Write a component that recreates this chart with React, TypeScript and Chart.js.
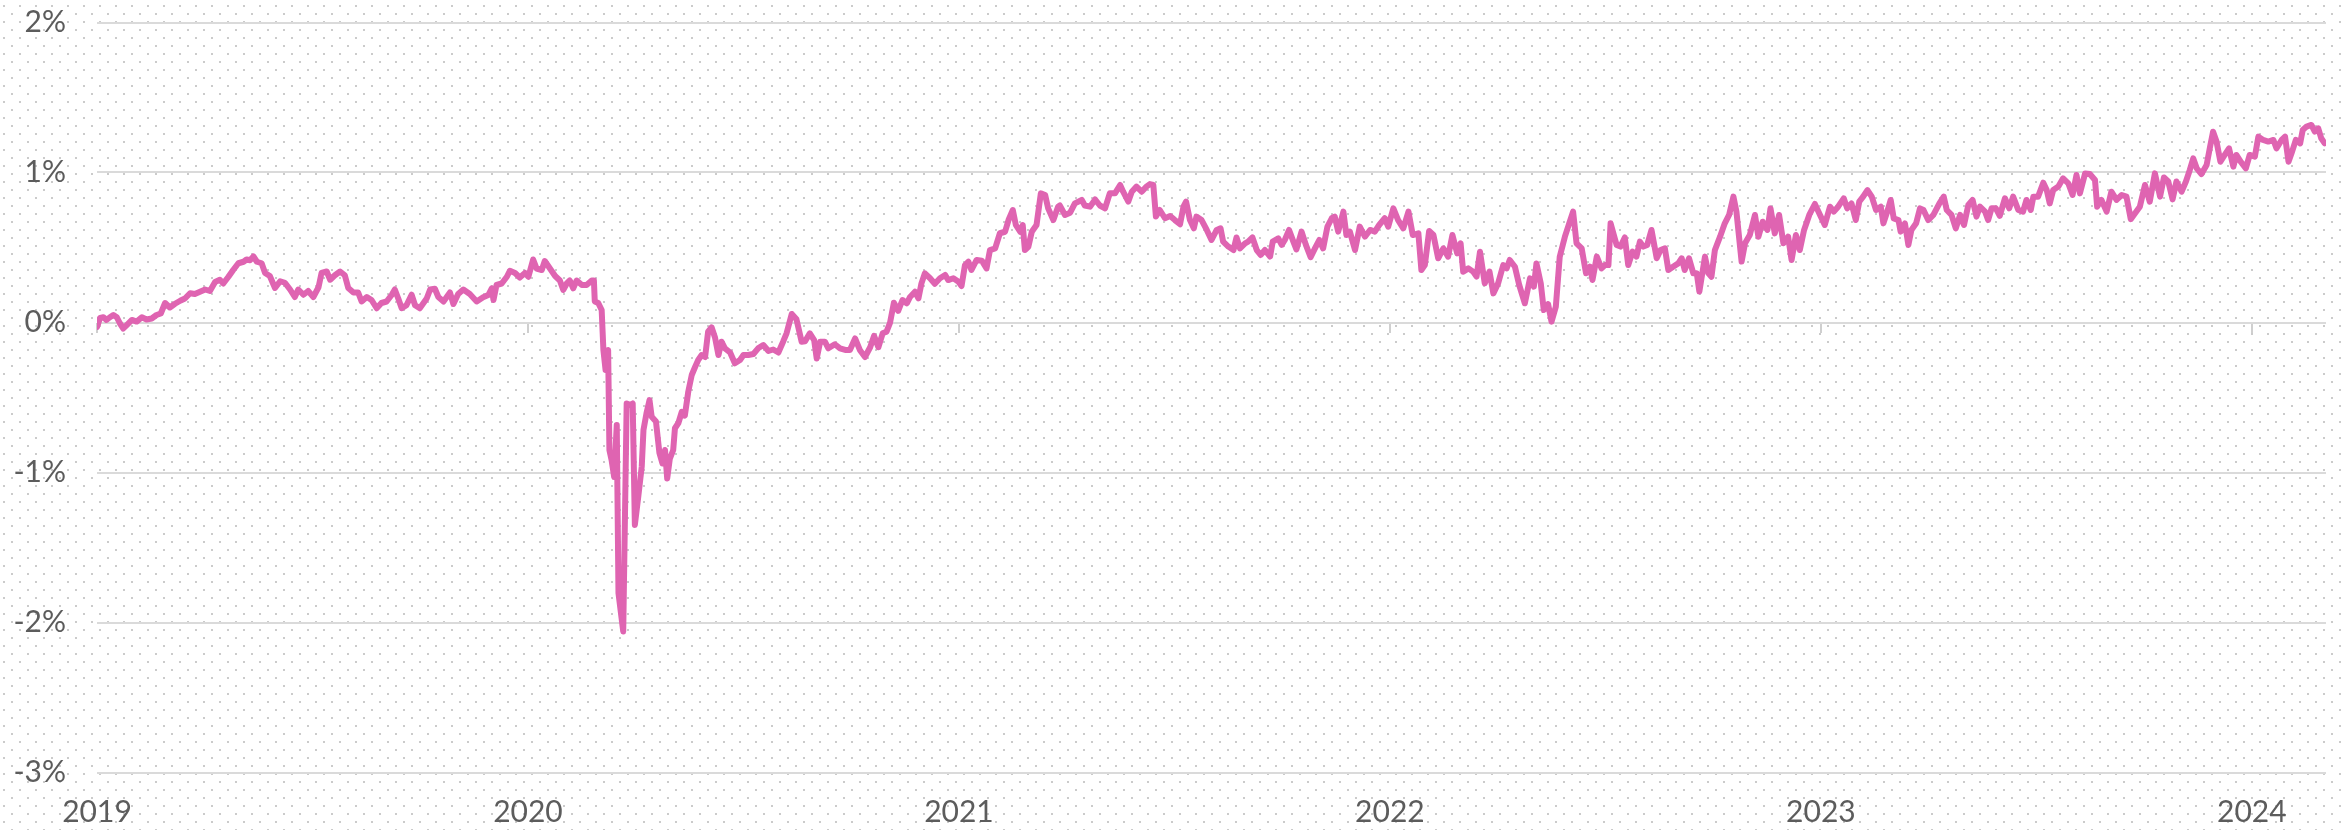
import React, { useEffect, useRef } from "react";
import { Chart, registerables } from "chart.js";

Chart.register(...registerables);

// x-axis labels (years) and y-axis ticks (%)
const yearTicks = [2019, 2020, 2021, 2022, 2023, 2024];
const percentTicks = [-3, -2, -1, 0, 1, 2];

// Each year: fraction of the year at which the reading is taken, and the value in %
const frac2019 = [0.000, 0.007, 0.015, 0.022, 0.030, 0.038, 0.046, 0.053, 0.061, 0.069, 0.081, 0.092, 0.104, 0.115, 0.127, 0.138, 0.148, 0.158, 0.169, 0.181, 0.193, 0.204, 0.216, 0.227, 0.239, 0.251, 0.262, 0.274, 0.285, 0.293, 0.305, 0.316, 0.328, 0.340, 0.347, 0.355, 0.363, 0.371, 0.382, 0.390, 0.401, 0.413, 0.425, 0.436, 0.448, 0.459, 0.467, 0.479, 0.490, 0.502, 0.514, 0.521, 0.533, 0.541, 0.552, 0.564, 0.575, 0.583, 0.595, 0.606, 0.614, 0.626, 0.637, 0.649, 0.660, 0.672, 0.684, 0.691, 0.699, 0.707, 0.718, 0.730, 0.738, 0.749, 0.765, 0.773, 0.784, 0.792, 0.804, 0.819, 0.827, 0.838, 0.850, 0.865, 0.881, 0.896, 0.908, 0.916, 0.920, 0.927, 0.939, 0.951, 0.958, 0.970, 0.981, 0.993];
const val2019 = [-0.03, 0.03, 0.035, 0.017, 0.035, 0.05, 0.035, -0.005, -0.04, -0.017, 0.017, 0.006, 0.035, 0.02, 0.027, 0.05, 0.06, 0.13, 0.10, 0.125, 0.145, 0.16, 0.195, 0.19, 0.205, 0.22, 0.21, 0.27, 0.285, 0.26, 0.305, 0.35, 0.395, 0.405, 0.42, 0.415, 0.44, 0.405, 0.395, 0.33, 0.31, 0.23, 0.275, 0.265, 0.22, 0.17, 0.22, 0.185, 0.21, 0.17, 0.235, 0.33, 0.34, 0.285, 0.315, 0.34, 0.315, 0.23, 0.2, 0.2, 0.14, 0.17, 0.15, 0.095, 0.13, 0.14, 0.185, 0.22, 0.16, 0.095, 0.115, 0.185, 0.115, 0.095, 0.16, 0.22, 0.225, 0.17, 0.14, 0.2, 0.123, 0.19, 0.22, 0.19, 0.14, 0.168, 0.183, 0.228, 0.15, 0.25, 0.26, 0.305, 0.345, 0.33, 0.3, 0.33];

const frac2020 = [0.001, 0.012, 0.020, 0.032, 0.039, 0.051, 0.063, 0.074, 0.082, 0.090, 0.097, 0.105, 0.113, 0.125, 0.136, 0.148, 0.153, 0.155, 0.163, 0.171, 0.175, 0.180, 0.186, 0.189, 0.194, 0.200, 0.206, 0.210, 0.221, 0.229, 0.237, 0.243, 0.248, 0.256, 0.264, 0.268, 0.275, 0.282, 0.287, 0.297, 0.305, 0.312, 0.318, 0.323, 0.329, 0.337, 0.341, 0.349, 0.357, 0.364, 0.372, 0.380, 0.388, 0.395, 0.403, 0.411, 0.418, 0.426, 0.434, 0.442, 0.449, 0.457, 0.469, 0.480, 0.492, 0.500, 0.511, 0.523, 0.534, 0.546, 0.558, 0.569, 0.581, 0.592, 0.600, 0.612, 0.623, 0.635, 0.643, 0.654, 0.664, 0.670, 0.678, 0.689, 0.697, 0.712, 0.724, 0.736, 0.747, 0.759, 0.770, 0.782, 0.794, 0.803, 0.813, 0.823, 0.832, 0.840, 0.849, 0.859, 0.869, 0.879, 0.886, 0.898, 0.906, 0.913, 0.921, 0.933, 0.944, 0.956, 0.968, 0.975, 0.987, 0.999];
const val2020 = [0.305, 0.42, 0.36, 0.35, 0.41, 0.36, 0.31, 0.28, 0.217, 0.26, 0.28, 0.228, 0.28, 0.25, 0.25, 0.28, 0.28, 0.14, 0.13, 0.083, -0.183, -0.317, -0.183, -0.85, -0.917, -1.03, -0.683, -1.805, -2.06, -0.54, -0.55, -0.54, -1.35, -1.16, -0.96, -0.717, -0.605, -0.517, -0.628, -0.66, -0.87, -0.94, -0.85, -1.04, -0.91, -0.85, -0.705, -0.67, -0.595, -0.62, -0.46, -0.35, -0.295, -0.25, -0.217, -0.23, -0.061, -0.032, -0.1, -0.217, -0.128, -0.173, -0.2, -0.272, -0.25, -0.217, -0.217, -0.21, -0.172, -0.15, -0.19, -0.18, -0.2, -0.128, -0.072, 0.057, 0.021, -0.128, -0.125, -0.072, -0.117, -0.24, -0.128, -0.128, -0.172, -0.145, -0.172, -0.183, -0.183, -0.106, -0.183, -0.23, -0.165, -0.089, -0.165, -0.072, -0.061, -0.003, 0.132, 0.078, 0.15, 0.128, 0.168, 0.205, 0.161, 0.261, 0.328, 0.295, 0.258, 0.295, 0.317, 0.283, 0.295, 0.272];

const frac2021 = [0.006, 0.014, 0.022, 0.029, 0.041, 0.053, 0.064, 0.072, 0.084, 0.095, 0.107, 0.115, 0.125, 0.132, 0.142, 0.148, 0.153, 0.161, 0.169, 0.180, 0.190, 0.200, 0.207, 0.219, 0.230, 0.234, 0.246, 0.258, 0.269, 0.285, 0.292, 0.304, 0.316, 0.327, 0.339, 0.350, 0.362, 0.374, 0.381, 0.393, 0.401, 0.412, 0.424, 0.435, 0.443, 0.451, 0.457, 0.466, 0.478, 0.490, 0.501, 0.513, 0.521, 0.527, 0.536, 0.545, 0.551, 0.563, 0.575, 0.586, 0.598, 0.607, 0.613, 0.625, 0.637, 0.644, 0.652, 0.664, 0.671, 0.681, 0.691, 0.700, 0.710, 0.722, 0.728, 0.741, 0.749, 0.756, 0.766, 0.776, 0.783, 0.795, 0.805, 0.816, 0.826, 0.836, 0.845, 0.855, 0.865, 0.872, 0.880, 0.892, 0.899, 0.907, 0.919, 0.930, 0.942, 0.954, 0.965, 0.975, 0.988, 0.996];
const val2021 = [0.243, 0.383, 0.405, 0.35, 0.417, 0.412, 0.361, 0.483, 0.494, 0.595, 0.605, 0.683, 0.75, 0.65, 0.605, 0.65, 0.483, 0.505, 0.605, 0.65, 0.861, 0.85, 0.761, 0.683, 0.772, 0.78, 0.717, 0.732, 0.794, 0.817, 0.78, 0.772, 0.82, 0.78, 0.761, 0.861, 0.861, 0.917, 0.872, 0.806, 0.872, 0.906, 0.872, 0.906, 0.923, 0.917, 0.706, 0.75, 0.695, 0.71, 0.683, 0.655, 0.772, 0.806, 0.683, 0.628, 0.706, 0.683, 0.617, 0.55, 0.617, 0.628, 0.539, 0.506, 0.483, 0.567, 0.494, 0.528, 0.539, 0.567, 0.483, 0.45, 0.483, 0.44, 0.539, 0.561, 0.517, 0.55, 0.617, 0.539, 0.487, 0.606, 0.517, 0.435, 0.494, 0.55, 0.494, 0.639, 0.695, 0.706, 0.606, 0.739, 0.583, 0.606, 0.483, 0.639, 0.572, 0.617, 0.606, 0.65, 0.695, 0.639];

const frac2022 = [0.008, 0.019, 0.031, 0.043, 0.053, 0.066, 0.073, 0.081, 0.091, 0.101, 0.112, 0.124, 0.135, 0.145, 0.156, 0.164, 0.170, 0.182, 0.193, 0.201, 0.209, 0.220, 0.231, 0.240, 0.251, 0.263, 0.271, 0.278, 0.290, 0.300, 0.313, 0.325, 0.334, 0.340, 0.350, 0.357, 0.367, 0.375, 0.385, 0.394, 0.406, 0.416, 0.425, 0.433, 0.445, 0.455, 0.464, 0.470, 0.480, 0.491, 0.499, 0.507, 0.512, 0.526, 0.535, 0.545, 0.553, 0.563, 0.572, 0.580, 0.588, 0.597, 0.607, 0.619, 0.628, 0.638, 0.646, 0.657, 0.669, 0.677, 0.684, 0.694, 0.704, 0.712, 0.718, 0.731, 0.739, 0.746, 0.754, 0.766, 0.777, 0.787, 0.797, 0.804, 0.816, 0.824, 0.835, 0.847, 0.855, 0.865, 0.876, 0.883, 0.893, 0.903, 0.913, 0.924, 0.932, 0.942, 0.951, 0.961, 0.973, 0.986, 0.998];
const val2022 = [0.761, 0.683, 0.628, 0.739, 0.583, 0.595, 0.35, 0.383, 0.61, 0.583, 0.428, 0.494, 0.439, 0.583, 0.461, 0.528, 0.339, 0.361, 0.339, 0.306, 0.472, 0.261, 0.339, 0.194, 0.261, 0.383, 0.361, 0.417, 0.372, 0.25, 0.128, 0.294, 0.239, 0.394, 0.261, 0.083, 0.122, 0.006, 0.106, 0.439, 0.572, 0.661, 0.739, 0.528, 0.494, 0.328, 0.372, 0.283, 0.439, 0.361, 0.383, 0.383, 0.661, 0.517, 0.506, 0.567, 0.383, 0.472, 0.439, 0.539, 0.506, 0.517, 0.617, 0.428, 0.483, 0.494, 0.35, 0.372, 0.394, 0.428, 0.35, 0.428, 0.328, 0.328, 0.206, 0.439, 0.328, 0.305, 0.483, 0.572, 0.661, 0.717, 0.839, 0.739, 0.406, 0.528, 0.583, 0.717, 0.572, 0.672, 0.617, 0.761, 0.594, 0.717, 0.528, 0.572, 0.417, 0.583, 0.483, 0.617, 0.717, 0.79, 0.717];

const frac2023 = [0.009, 0.021, 0.030, 0.040, 0.053, 0.061, 0.071, 0.081, 0.089, 0.098, 0.108, 0.118, 0.128, 0.139, 0.145, 0.154, 0.162, 0.169, 0.180, 0.185, 0.195, 0.203, 0.210, 0.221, 0.230, 0.238, 0.249, 0.261, 0.275, 0.285, 0.292, 0.303, 0.313, 0.323, 0.332, 0.342, 0.352, 0.361, 0.369, 0.381, 0.388, 0.396, 0.406, 0.415, 0.427, 0.437, 0.446, 0.458, 0.469, 0.477, 0.487, 0.493, 0.504, 0.516, 0.524, 0.531, 0.539, 0.551, 0.562, 0.574, 0.584, 0.593, 0.601, 0.613, 0.624, 0.636, 0.641, 0.651, 0.663, 0.674, 0.686, 0.698, 0.709, 0.719, 0.729, 0.740, 0.752, 0.763, 0.775, 0.787, 0.796, 0.806, 0.816, 0.825, 0.837, 0.847, 0.856, 0.864, 0.872, 0.883, 0.895, 0.903, 0.910, 0.918, 0.927, 0.937, 0.947, 0.957, 0.964, 0.974, 0.986, 0.995];
const val2023 = [0.65, 0.772, 0.739, 0.772, 0.828, 0.761, 0.794, 0.683, 0.806, 0.839, 0.883, 0.839, 0.75, 0.772, 0.661, 0.739, 0.817, 0.694, 0.683, 0.606, 0.661, 0.517, 0.617, 0.661, 0.761, 0.75, 0.683, 0.717, 0.794, 0.839, 0.75, 0.717, 0.628, 0.717, 0.65, 0.783, 0.817, 0.706, 0.772, 0.739, 0.683, 0.761, 0.761, 0.711, 0.828, 0.761, 0.839, 0.75, 0.739, 0.817, 0.75, 0.839, 0.839, 0.932, 0.883, 0.794, 0.883, 0.906, 0.961, 0.928, 0.85, 0.983, 0.861, 0.994, 0.99, 0.95, 0.772, 0.817, 0.739, 0.872, 0.817, 0.85, 0.839, 0.689, 0.728, 0.772, 0.917, 0.806, 0.994, 0.839, 0.967, 0.94, 0.821, 0.94, 0.872, 0.94, 1.017, 1.094, 1.028, 0.99, 1.05, 1.172, 1.272, 1.206, 1.072, 1.117, 1.161, 1.039, 1.117, 1.072, 1.028, 1.117];

const frac2024 = [0.007, 0.015, 0.026, 0.038, 0.050, 0.057, 0.069, 0.077, 0.085, 0.092, 0.102, 0.112, 0.118, 0.127, 0.138, 0.146, 0.154, 0.161, 0.169];
const val2024 = [1.106, 1.239, 1.217, 1.206, 1.217, 1.161, 1.217, 1.239, 1.072, 1.128, 1.217, 1.194, 1.283, 1.306, 1.317, 1.272, 1.294, 1.228, 1.194];

const X_MIN = 2019;
const X_MAX = 2024.172;

const seriesByYear: Array<[number, number[], number[]]> = [
  [2019, frac2019, val2019],
  [2020, frac2020, val2020],
  [2021, frac2021, val2021],
  [2022, frac2022, val2022],
  [2023, frac2023, val2023],
  [2024, frac2024, val2024],
];

const FONT = "Lato, 'Open Sans', 'DejaVu Sans', sans-serif";
const TEXT_COLOR = "#5c5c5c";
const DOT = "radial-gradient(circle, #cbcbcb 0.9px, rgba(255,255,255,0) 1.4px)";

export default function App() {
  const canvasRef = useRef<HTMLCanvasElement | null>(null);

  useEffect(() => {
    document.body.style.margin = "0";
    const canvas = canvasRef.current;
    if (!canvas) return;

    const points: { x: number; y: number }[] = [];
    seriesByYear.forEach(([yr, fr, vals]) => {
      fr.forEach((f, i) => points.push({ x: yr + f, y: vals[i] }));
    });

    const yearTickBuilder = (scale: any) => {
      scale.ticks = yearTicks.map((v) => ({ value: v }));
    };

    const chart = new Chart(canvas, {
      type: "line",
      data: {
        datasets: [
          {
            data: points,
            borderColor: "#DF64B1",
            borderWidth: 6,
            pointRadius: 0,
            pointHoverRadius: 0,
            tension: 0,
            borderJoinStyle: "round",
            borderCapStyle: "round",
            fill: false,
          },
        ],
      },
      options: {
        animation: false,
        responsive: false,
        maintainAspectRatio: false,
        layout: { padding: { top: 22.5, right: 15, left: 0, bottom: 0 } },
        plugins: { legend: { display: false }, tooltip: { enabled: false } },
        scales: {
          x: {
            type: "linear",
            position: "bottom",
            min: X_MIN,
            max: X_MAX,
            afterBuildTicks: yearTickBuilder,
            afterFit: (scale: any) => {
              scale.height = 57.5;
              scale.paddingLeft = 0;
              scale.paddingRight = 0;
            },
            grid: { display: false, drawTicks: false },
            border: { display: false },
            ticks: {
              padding: 22,
              color: TEXT_COLOR,
              font: { family: FONT, size: 30 },
              maxRotation: 0,
              autoSkip: false,
              callback: (v: any) => String(v),
            },
          },
          x2: {
            type: "linear",
            axis: "x",
            position: { y: 0 },
            min: X_MIN,
            max: X_MAX,
            afterBuildTicks: yearTickBuilder,
            afterFit: (scale: any) => {
              scale.height = 0;
              scale.paddingLeft = 0;
              scale.paddingRight = 0;
            },
            grid: {
              drawOnChartArea: false,
              drawTicks: true,
              tickLength: 10,
              color: "#cfcfcf",
              lineWidth: 2,
            },
            border: { display: false },
            ticks: { display: false },
          },
          y: {
            type: "linear",
            min: -3,
            max: 2,
            afterBuildTicks: (scale: any) => {
              scale.ticks = percentTicks.map((v) => ({ value: v }));
            },
            afterFit: (scale: any) => {
              scale.width = 97;
              scale.paddingTop = 0;
              scale.paddingBottom = 0;
            },
            grid: { color: "#dadada", lineWidth: 2, drawTicks: false },
            border: { display: false },
            ticks: {
              padding: 31,
              color: TEXT_COLOR,
              font: { family: FONT, size: 30 },
              callback: (v: any) => `${v}%`,
            },
          },
        },
      },
    } as any);

    return () => chart.destroy();
  }, []);

  return (
    <div
      style={{
        position: "fixed",
        left: 0,
        top: 0,
        width: 2341,
        height: 830,
        backgroundColor: "#ffffff",
        backgroundImage: `${DOT}, ${DOT}`,
        backgroundSize: "16px 16px, 16px 16px",
        backgroundPosition: "-4px -2px, 4px 6px",
      }}
    >
      <canvas ref={canvasRef} width={2341} height={830} style={{ display: "block" }} />
    </div>
  );
}
